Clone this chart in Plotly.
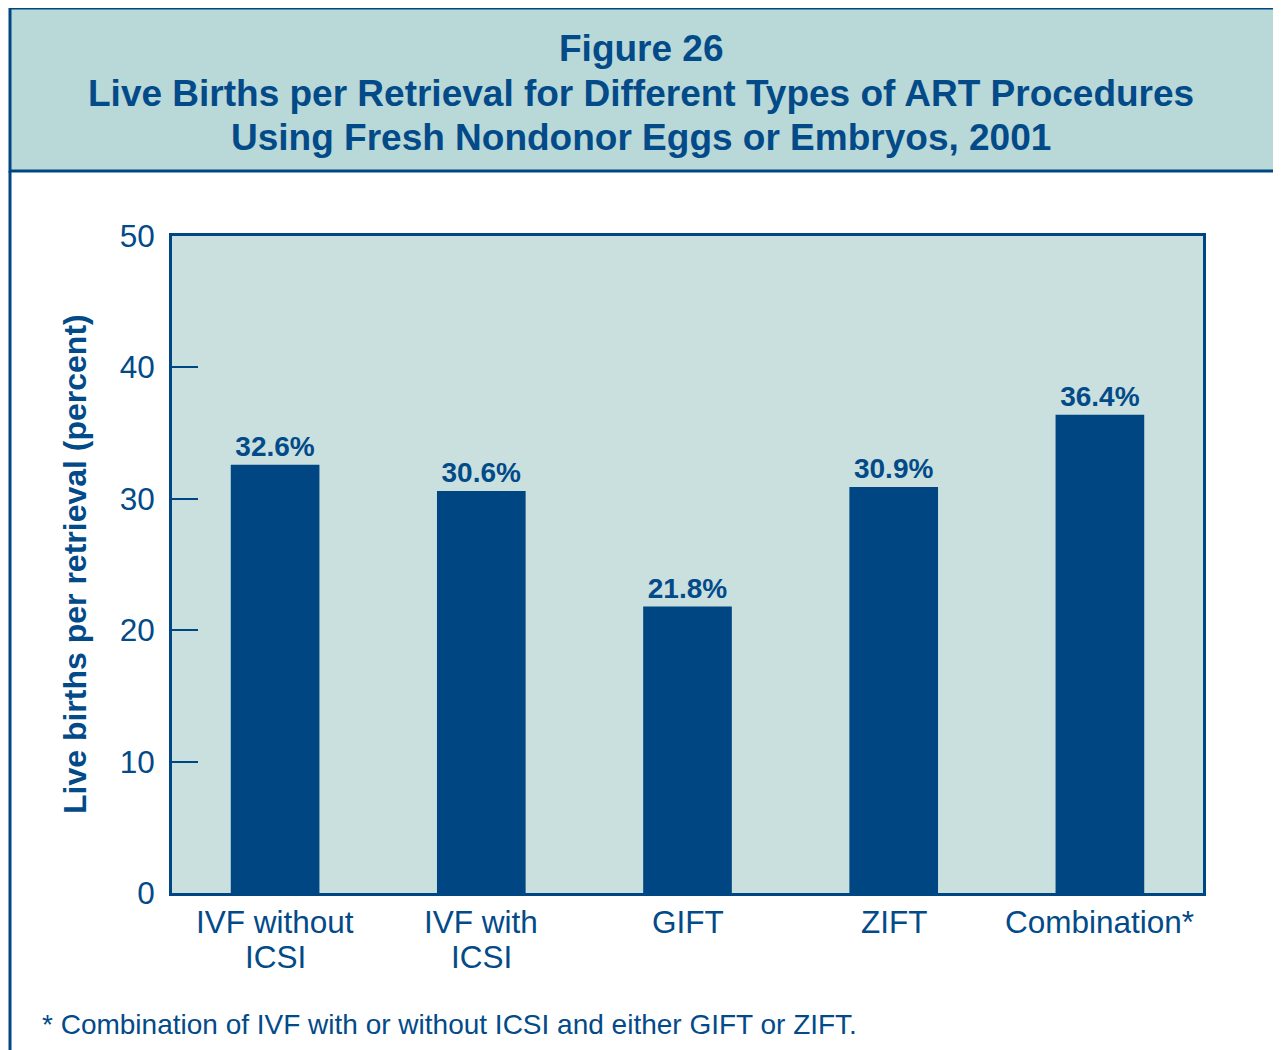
import plotly.graph_objects as go

# Data
procedures = ["IVF without ICSI", "IVF with ICSI", "GIFT", "ZIFT", "Combination*"]
tick_lines = [["IVF without", "ICSI"], ["IVF with", "ICSI"], ["GIFT"], ["ZIFT"], ["Combination*"]]
live_birth_pct = [32.6, 30.6, 21.8, 30.9, 36.4]
bar_labels = ["32.6%", "30.6%", "21.8%", "30.9%", "36.4%"]
y_ticks = [0, 10, 20, 30, 40, 50]

NAVY = "#004682"
TEXT = "#034a89"
HEADER_BG = "#b9d8d8"
PLOT_BG = "#c9e0df"
FONT = "Liberation Sans, Arial, sans-serif"

OFF = 8  # page body margin
W, H = 1281 - OFF, 1050 - OFF
L, R, T, B = 172, 1203, 236, 893


def px_x(x):
    return (x - L) / (R - L)


def px_y(y):
    return (B - y) / (B - T)


fig = go.Figure()

fig.add_trace(go.Bar(
    x=procedures,
    y=live_birth_pct,
    marker=dict(color=NAVY, line=dict(width=0)),
    text=bar_labels,
    textposition="outside",
    textfont=dict(family=FONT, size=28, color=TEXT),
    texttemplate="<b>%{text}</b>",
    cliponaxis=False,
    hoverinfo="skip",
))

# header band and outer frame
fig.add_shape(type="rect", xref="paper", yref="paper",
              x0=px_x(10), x1=px_x(1300), y0=px_y(8), y1=px_y(171),
              fillcolor=HEADER_BG, line=dict(color=NAVY, width=3), layer="below")
fig.add_shape(type="line", xref="paper", yref="paper",
              x0=px_x(10), x1=px_x(10), y0=px_y(171), y1=px_y(1070),
              line=dict(color=NAVY, width=3))

title_lines = [
    "Figure 26",
    "Live Births per Retrieval for Different Types of ART Procedures",
    "Using Fresh Nondonor Eggs or Embryos, 2001",
]
for line, yc in zip(title_lines, [48, 93, 138]):
    fig.add_annotation(text=f"<b>{line}</b>", xref="paper", yref="paper",
                       x=px_x(641), y=px_y(yc), xanchor="center", yanchor="middle",
                       showarrow=False, font=dict(family=FONT, size=37, color=TEXT))

# category labels (two-line with tight spacing)
for cat, lines in zip(procedures, tick_lines):
    for i, ln in enumerate(lines):
        fig.add_annotation(text=ln, xref="x", yref="paper",
                           x=cat, y=px_y(922 + 35 * i), xanchor="center", yanchor="middle",
                           showarrow=False, font=dict(family=FONT, size=31.5, color=TEXT))

# y-axis title
fig.add_annotation(text="<b>Live births per retrieval (percent)</b>", xref="paper", yref="paper",
                   x=px_x(75), y=px_y(564), xanchor="center", yanchor="middle",
                   textangle=-90, showarrow=False,
                   font=dict(family=FONT, size=32, color=TEXT))

fig.add_annotation(text="* Combination of IVF with or without ICSI and either GIFT or ZIFT.",
                   xref="paper", yref="paper", x=px_x(40), y=px_y(1024),
                   xanchor="left", yanchor="middle", showarrow=False,
                   font=dict(family=FONT, size=28, color=TEXT))

fig.update_layout(
    width=W, height=H,
    margin=dict(l=L - OFF, r=W - (R - OFF), t=T - OFF, b=H - (B - OFF), autoexpand=False),
    paper_bgcolor="white",
    plot_bgcolor=PLOT_BG,
    showlegend=False,
    bargap=0.57,
    font=dict(family=FONT, color=TEXT),
    xaxis=dict(
        showline=True, linecolor=NAVY, linewidth=3, mirror=True,
        ticks="", showgrid=False, showticklabels=False,
    ),
    yaxis=dict(
        range=[0, 50], tickvals=y_ticks,
        showline=True, linecolor=NAVY, linewidth=3, mirror=True,
        ticks="inside", ticklen=26, tickwidth=2, tickcolor=NAVY,
        showgrid=False, zeroline=False, ticklabelstandoff=8,
        tickfont=dict(family=FONT, size=31.5, color=TEXT),
    ),
)

fig.write_html("out.html")
